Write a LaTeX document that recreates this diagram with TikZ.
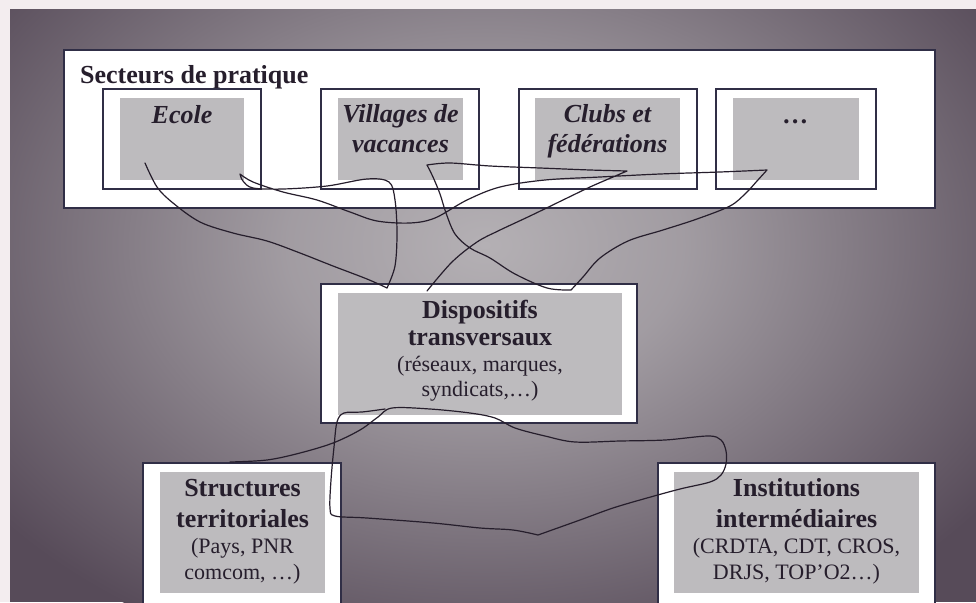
\documentclass[tikz,border=0pt]{standalone}
\usepackage{fontspec}
\setmainfont{Liberation Serif}

\definecolor{margin}{HTML}{F3EDEF}
\definecolor{bglight}{HTML}{B4B0B4}
\definecolor{bgdark}{HTML}{574B59}
\definecolor{boxgray}{HTML}{BDBBBE}
\definecolor{frameline}{HTML}{302E46}
\definecolor{ink}{HTML}{261E2C}
\pgfdeclareradialshading{bgglow}{\pgfpoint{0bp}{0bp}}{color(0bp)=(bglight); color(8bp)=(bglight!80!bgdark); color(25bp)=(bgdark); color(50bp)=(bgdark)}

\begin{document}
\begin{tikzpicture}[x=1pt, y=-1pt,
  frame/.style={draw=frameline, fill=white, line width=1.1pt, inner sep=0pt},
  shadebox/.style={fill=boxgray, inner sep=0pt},
  sectortext/.style={font=\bfseries\itshape\fontsize{26}{30}\selectfont, text=ink, inner sep=0pt, anchor=base},
  headtext/.style={font=\bfseries\fontsize{26}{30}\selectfont, text=ink, inner sep=0pt, anchor=base},
  subtext/.style={font=\fontsize{22}{26}\selectfont, text=ink, inner sep=0pt, anchor=base},
  scribble/.style={draw=ink, line width=1.2pt, line join=round, line cap=round}]
\useasboundingbox (0,0) rectangle (976,602);
\clip (0,0) rectangle (976,602);

% scanned page and shaded backdrop
\fill[margin] (0,0) rectangle (976,602);
\begin{scope}
  \clip (10,10) rectangle (976,602);
  \fill[bgdark] (10,10) rectangle (976,602);
  \shade[shading=bgglow] (485,245) ellipse [x radius=620pt, y radius=440pt];
\end{scope}

% sectors of practice
\node[frame, minimum width=871pt, minimum height=158pt] (sectors) at (499.5,129) {};
\node[headtext, anchor=base west] (secthead) at (80,83) {Secteurs de pratique};

\node[frame, minimum width=158pt, minimum height=100pt] (ecole) at (182,139) {};
\node[shadebox, minimum width=124pt, minimum height=82pt] (ecoleG) at (182,139) {};
\node[frame, minimum width=158pt, minimum height=100pt] (villages) at (400,139) {};
\node[shadebox, minimum width=125pt, minimum height=82pt] (villagesG) at (400.5,139) {};
\node[frame, minimum width=178pt, minimum height=100pt] (clubs) at (608,139) {};
\node[shadebox, minimum width=145pt, minimum height=82pt] (clubsG) at (607.5,139) {};
\node[frame, minimum width=160pt, minimum height=100pt] (autres) at (796,139) {};
\node[shadebox, minimum width=126pt, minimum height=82pt] (autresG) at (796,139) {};

\node[sectortext] (ecoleA) at (182,123) {Ecole};
\node[sectortext] (villA) at (400.5,122) {Villages de};
\node[sectortext] (villB) at (400.5,152) {vacances};
\node[sectortext] (clubA) at (607.5,122) {Clubs et};
\node[sectortext] (clubB) at (607.5,152) {fédérations};
\node[sectortext] (autresA) at (796,123) {…};

% transversal schemes
\node[frame, minimum width=316pt, minimum height=139pt] (disp) at (479,353.5) {};
\node[shadebox, minimum width=284pt, minimum height=122pt] (dispG) at (480,354) {};
\node[headtext] (dispA) at (480,318) {Dispositifs};
\node[headtext] (dispB) at (480,345) {transversaux};
\node[subtext] (dispC) at (480,371) {(réseaux, marques,};
\node[subtext] (dispD) at (480,396) {syndicats,…)};

% territorial structures and intermediate institutions
\node[frame, minimum width=198pt, minimum height=150pt] (struct) at (242,538) {};
\node[shadebox, minimum width=165pt, minimum height=121pt] (structG) at (242.5,532.5) {};
\node[headtext] (strA) at (242.5,496) {Structures};
\node[headtext] (strB) at (242.5,527) {territoriales};
\node[subtext] (strC) at (242.5,553) {(Pays, PNR};
\node[subtext] (strD) at (242.5,579) {comcom, …)};

\node[frame, minimum width=277pt, minimum height=150pt] (inst) at (796.5,538) {};
\node[shadebox, minimum width=245pt, minimum height=121pt] (instG) at (796.5,532.5) {};
\node[headtext] (instA) at (796.5,496) {Institutions};
\node[headtext] (instB) at (796.5,527) {intermédiaires};
\node[subtext] (instC) at (796.5,553) {(CRDTA, CDT, CROS,};
\node[subtext] (instD) at (796.5,579) {DRJS, TOP’O2…)};

% hand drawn links, top
\draw[scribble]
  plot[smooth, tension=0.55] coordinates {(145,163) (157,187) (173,203) (200,222) (233,233) (267,241) (300,253) (333,266) (367,279) (387,288)}
  -- plot[smooth, tension=0.55] coordinates {(387,288) (395,266) (397,233) (395,200) (389,182) (367,179) (327,186) (283,189) (253,188) (243,181) (240,174)}
  -- plot[smooth, tension=0.55] coordinates {(240,174) (253,182) (283,192) (317,200) (350,212) (377,221) (410,223) (435,218) (467,200) (500,187) (545,180) (600,177) (660,174) (720,172) (767,170)}
  -- plot[smooth, tension=0.55] coordinates {(767,170) (757,181) (746,193) (730,206) (697,219) (663,230) (628,241) (600,258) (583,277) (571,290)}
  -- plot[smooth, tension=0.55] coordinates {(571,290) (547,288) (515,274) (490,258) (470,248) (455,234) (446,213) (440,194) (433,177) (427,165)}
  -- plot[smooth, tension=0.55] coordinates {(427,165) (450,163) (490,166) (540,168) (590,170) (627,171)}
  -- plot[smooth, tension=0.55] coordinates {(627,171) (613,177) (590,187) (563,200) (530,216) (498,231) (477,242) (452,262) (427,291)};

% hand drawn links, bottom
\draw[scribble]
  plot[smooth, tension=0.55] coordinates {(230,462) (267,460) (300,453) (333,443) (360,430) (378,417) (392,408) (430,409) (470,413) (495,418) (515,428) (545,436) (575,442) (620,441) (665,440) (708,436) (721,440) (726,451) (726,464) (721,475) (710,482) (680,489) (647,498) (613,508) (580,520) (538,535)}
  -- plot[smooth, tension=0.55] coordinates {(538,535) (513,530) (480,528) (433,523) (367,518) (335,516) (330,508) (331,480) (334,447) (337,422) (344,413) (362,412) (385,409)};
\end{tikzpicture}
\end{document}
